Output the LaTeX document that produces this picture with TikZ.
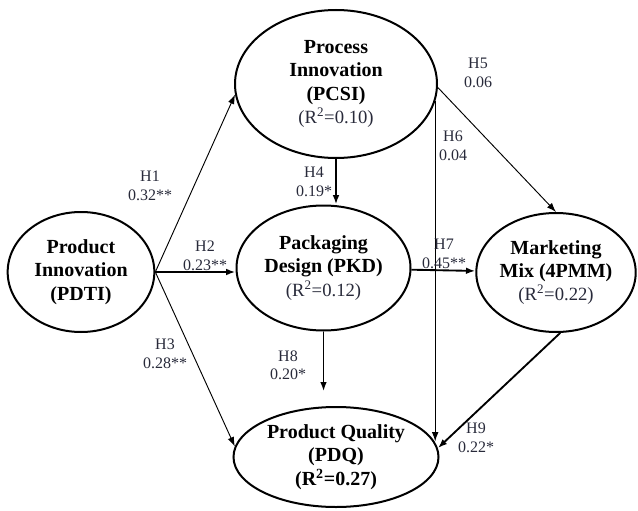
\documentclass[tikz,border=0pt]{standalone}
\usepackage{fontspec}
\setmainfont{Liberation Serif}
\usetikzlibrary{shapes.geometric,arrows.meta,calc}
\definecolor{inkgrey}{RGB}{40,42,58}
\newcommand{\rsqval}[1]{{\mdseries\fontsize{14}{17}\selectfont\color{inkgrey}(R\textsuperscript{2}=#1)}}

\begin{document}
\begin{tikzpicture}[x=0.75pt,y=-0.75pt,
        latent/.style={ellipse,draw,line width=1.5pt,inner sep=0pt,align=center,
            font=\fontsize{15}{17.5}\selectfont\bfseries},
        hyp/.style={align=center,inner sep=0pt,text=inkgrey,
            font=\fontsize{12}{13.8}\selectfont},
        thinarr/.style={-{Latex[length=7pt,width=5pt]},line width=0.7pt},
        thickarr/.style={-{Latex[length=7pt,width=5pt]},line width=1.4pt}]
    \useasboundingbox (0,0) rectangle (638,510);
    % constructs
    \node[latent,minimum width=110pt,minimum height=90pt] (pdti) at (81,272)
        {Product\\Innovation\\(PDTI)};
    \node[latent,minimum width=151.5pt,minimum height=111pt] (pcsi) at (336,84)
        {Process\\Innovation\\(PCSI)\\\rsqval{0.10}};
    \node[latent,minimum width=130.5pt,minimum height=93.75pt] (pkd) at (323.5,268)
        {Packaging\\Design (PKD)\\\rsqval{0.12}};
    \node[latent,minimum width=118.5pt,minimum height=89.25pt] (mix) at (556,272.5)
        {Marketing\\Mix (4PMM)\\\rsqval{0.22}};
    \node[latent,minimum width=153.75pt,minimum height=75pt] (pdq) at (336,457)
        {Product Quality\\(PDQ)\\(R\textsuperscript{2}=0.27)};
    % paths
    \draw[thinarr] (pdti.east) -- (pcsi.186);
    \draw[thickarr] (pdti.east) -- (pdti.east -| pkd.west);
    \draw[thinarr] (pdti.east) -- (pdq.174);
    \draw[thickarr] (pcsi.south) -- (pcsi.south |- pkd.north);
    \draw[thinarr] (pcsi.-2) -- (mix.north);
    \draw[thinarr] (pcsi.-10) -- (pcsi.-10 |- pdq.9);
    \draw[thickarr] (pkd) -- (mix);
    \draw[thickarr,shorten >=11pt] (pkd.south) -- (pkd.south |- pdq.north);
    \draw[thickarr] (mix.-86) -- (pdq.5);
    % coefficients
    \node[hyp] (h1) at (150,186) {H1\\0.32**};
    \node[hyp] (h2) at (205,256) {H2\\0.23**};
    \node[hyp] (h3) at (165,354) {H3\\0.28**};
    \node[hyp] (h4) at (314,182) {H4\\0.19*};
    \node[hyp] (h5) at (478,73) {H5\\0.06};
    \node[hyp] (h6) at (453,146) {H6\\0.04};
    \node[hyp] (h7) at (444,254) {H7\\0.45**};
    \node[hyp] (h8) at (288,365) {H8\\0.20*};
    \node[hyp] (h9) at (476,438) {H9\\0.22*};
\end{tikzpicture}
\end{document}
